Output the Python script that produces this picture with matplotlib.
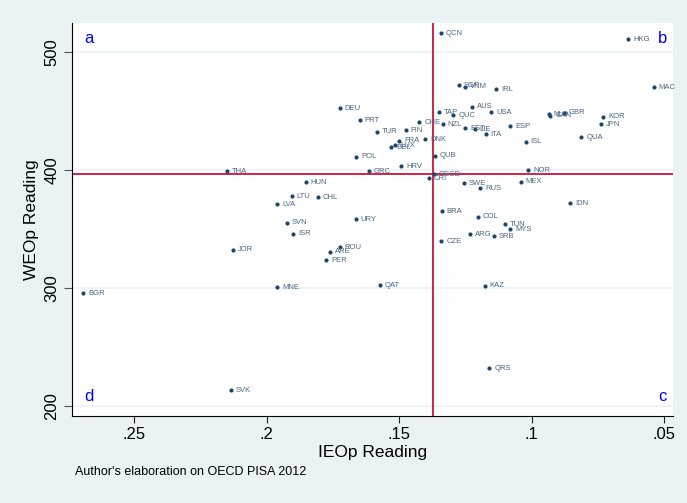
import matplotlib
matplotlib.use('Agg')
import matplotlib.pyplot as plt

# country codes with IEOp (x) and WEOp (y) reading values
codes = ['QCN', 'HKG', 'SGP', 'VNM', 'IRL', 'MAC', 'AUS', 'TAP', 'QUC', 'USA',
         'NLD', 'CAN', 'GBR', 'KOR', 'JPN', 'NZL', 'EST', 'LIE', 'ESP', 'ITA',
         'QUA', 'ISL', 'DEU', 'PRT', 'TUR', 'FIN', 'CHE', 'FRA', 'LUX', 'BEL',
         'DNK', 'POL', 'QUB', 'HRV', 'GRC', 'THA', 'OECD', 'CRI', 'NOR', 'MEX',
         'SWE', 'RUS', 'HUN', 'LTU', 'CHL', 'LVA', 'IDN', 'BRA', 'COL', 'TUN',
         'MYS', 'ARG', 'SRB', 'CZE', 'URY', 'SVN', 'ISR', 'ROU', 'ARE', 'PER',
         'JOR', 'MNE', 'QAT', 'KAZ', 'BGR', 'QRS', 'SVK']
ieop = [0.1342, 0.0635, 0.1274, 0.1251, 0.1134, 0.0539, 0.1226, 0.1348, 0.1295, 0.1153,
        0.0935, 0.0929, 0.0878, 0.0729, 0.0737, 0.1335, 0.1251, 0.1214, 0.1081, 0.1173,
        0.0812, 0.1022, 0.1724, 0.1648, 0.1584, 0.1475, 0.1423, 0.1500, 0.1514, 0.1529,
        0.1402, 0.1661, 0.1364, 0.1491, 0.1614, 0.2150, 0.1369, 0.1388, 0.1013, 0.1041,
        0.1254, 0.1194, 0.1852, 0.1904, 0.1805, 0.1959, 0.0855, 0.1339, 0.1202, 0.1100,
        0.1080, 0.1231, 0.1142, 0.1340, 0.1663, 0.1924, 0.1900, 0.1723, 0.1760, 0.1775,
        0.2128, 0.1960, 0.1573, 0.1177, 0.2691, 0.1159, 0.2134]
weop = [515.9, 510.8, 472.0, 470.6, 468.4, 470.0, 453.6, 448.9, 446.3, 449.1,
        447.4, 446.0, 448.5, 445.1, 438.9, 438.9, 435.3, 434.7, 437.0, 430.2,
        427.6, 423.9, 452.2, 442.1, 432.4, 433.6, 440.6, 424.8, 421.1, 419.4,
        426.2, 411.2, 412.1, 403.0, 398.8, 398.8, 396.5, 393.1, 399.7, 390.0,
        388.6, 384.4, 389.5, 377.9, 377.0, 370.8, 371.7, 365.1, 360.3, 353.9,
        349.6, 345.4, 343.7, 339.7, 358.1, 355.2, 345.9, 334.6, 330.6, 323.3,
        332.3, 300.7, 302.4, 301.8, 295.3, 231.7, 213.3]

x_ref = 0.1372   # OECD mean IEOp
y_ref = 396.5    # OECD mean WEOp

xticks = [0.25, 0.2, 0.15, 0.1, 0.05]
xlabels = ['.25', '.2', '.15', '.1', '.05']
yticks = [200, 300, 400, 500]

bg = '#eaf2f3'
navy = '#1a476f'

plt.rcParams['font.family'] = ['Liberation Sans', 'DejaVu Sans']

fig = plt.figure(figsize=(6.87, 5.03), dpi=100, facecolor=bg)
ax = fig.add_axes([0.1048, 0.173, 0.875, 0.781])
ax.set_facecolor('white')

for yt in yticks:
    ax.axhline(yt, color=bg, lw=1.2, zorder=0)

ax.scatter(ieop, weop, s=9, color=navy, zorder=3, linewidths=0)
for c, xv, yv in zip(codes, ieop, weop):
    ax.annotate(c, (xv, yv), xytext=(3.5, 0), textcoords='offset points',
                va='center', ha='left', fontsize=5.5, color='#4a6584', zorder=3)

ax.axvline(x_ref, color='#d0103a', lw=1.3, zorder=2)
ax.axhline(y_ref, color='#d0103a', lw=1.3, zorder=2)

ax.set_xlim(0.2734, 0.0466)
ax.set_ylim(191.3, 524.6)
ax.set_xticks(xticks)
ax.set_xticklabels(xlabels, fontsize=12)
ax.set_yticks(yticks)
ax.set_yticklabels([str(v) for v in yticks], fontsize=12, rotation=90, va='center')
ax.tick_params(axis='y', length=6, color='#555555', pad=3)
ax.tick_params(axis='x', length=5, color='#222222', pad=3)

for s in ['top', 'right']:
    ax.spines[s].set_visible(False)
ax.spines['left'].set_color('black')
ax.spines['bottom'].set_color('black')

ax.set_xlabel('IEOp Reading', fontsize=12.5, labelpad=2)
ax.set_ylabel('WEOp Reading', fontsize=12.5, labelpad=4)

# quadrant letters
ax.text(0.02, 0.96, 'a', transform=ax.transAxes, color='blue', fontsize=12, va='center')
ax.text(0.99, 0.96, 'b', transform=ax.transAxes, color='blue', fontsize=12, va='center', ha='right')
ax.text(0.99, 0.05, 'c', transform=ax.transAxes, color='blue', fontsize=12, va='center', ha='right')
ax.text(0.02, 0.05, 'd', transform=ax.transAxes, color='blue', fontsize=12, va='center')

fig.text(0.109, 0.055, "Author's elaboration on OECD PISA 2012", fontsize=9, color='black')

fig.savefig('out.png', dpi=100, facecolor=bg)
